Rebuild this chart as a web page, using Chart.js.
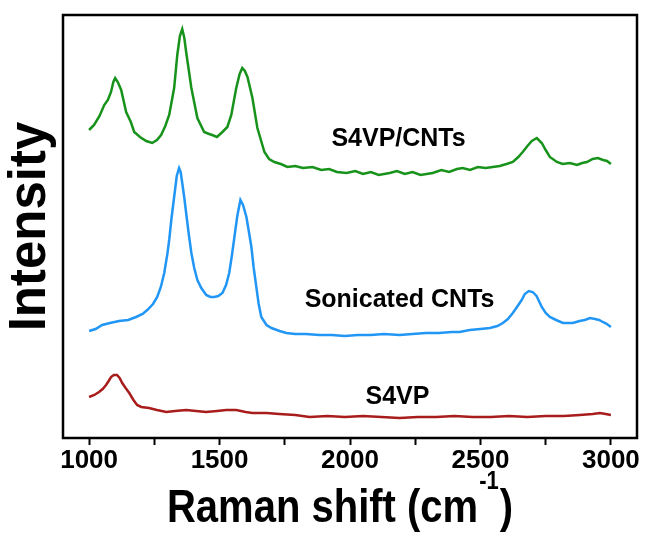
<!DOCTYPE html>
<html>
<head>
<meta charset="utf-8">
<script src="https://cdn.jsdelivr.net/npm/chart.js@4.4.0/dist/chart.umd.min.js"></script>
<style>
  html, body { margin: 0; padding: 0; background: #fff; }
  #wrap { width: 649px; height: 534px; }
</style>
</head>
<body>
<div id="wrap"><canvas id="myChart" width="649" height="534"></canvas></div>
<script>
// Raman spectra, intensity in arbitrary units (curves stacked with offsets like the figure)
var greenX = [1000,1019,1040,1058,1072,1084,1093,1100,1110,1123,1142,1160,1173,1195,1219,1242,1260,1276,1292,1307,1326,1338,1348,1357,1365,1372,1392,1415,1441,1460,1472,1490,1511,1530,1545,1564,1577,1587,1597,1607,1626,1645,1672,1690,1710,1735,1760,1790,1820,1856,1890,1920,1950,1987,2020,2050,2080,2110,2152,2180,2210,2240,2270,2317,2350,2380,2410,2432,2460,2490,2520,2547,2574,2600,2624,2645,2662,2680,2697,2716,2735,2750,2766,2793,2815,2843,2870,2890,2908,2930,2950,2970,2985,3000];
var greenY = [308,313,322,333,338,346,356,360,356,348,326,316,306,301,297,295,298,303,312,323,350,383,402,409,400,386,350,320,306,304,303,301,306,311,323,350,364,370,367,361,340,310,286,279,276,274,271,272,270,271,268,269,266,265,267,264,266,263,265,267,264,266,263,265,268,266,269,270,268,271,270,271,272,274,276,281,286,292,297,300,295,288,281,276,274,275,273,275,276,279,280,278,277,274];

var blueX = [1000,1025,1050,1080,1115,1150,1180,1205,1223,1245,1261,1275,1288,1300,1307,1316,1326,1336,1345,1351,1357,1365,1372,1382,1392,1403,1415,1430,1449,1465,1480,1495,1511,1525,1537,1547,1557,1568,1580,1590,1603,1612,1622,1631,1641,1650,1660,1680,1699,1730,1756,1790,1830,1883,1930,1980,2030,2080,2130,2190,2240,2290,2340,2390,2420,2459,2500,2536,2565,2586,2605,2624,2640,2658,2670,2685,2700,2715,2735,2750,2766,2790,2816,2854,2880,2900,2920,2939,2955,2969,2985,3000];
var blueY = [107,109,113,115,117,118,121,124,128,134,141,151,165,184,198,220,241,262,270,266,255,240,225,204,185,170,158,150,143,141,141,142,145,153,165,182,201,222,238,233,221,207,191,170,151,134,121,113,110,107,105,104,104,103,103,102,103,103,104,103,104,105,105,106,106,108,109,110,112,115,119,125,131,138,144,147,146,142,131,125,121,118,115,115,117,118,120,119,118,116,114,111];

var redX = [1000,1020,1038,1052,1065,1075,1084,1095,1107,1117,1127,1140,1154,1170,1184,1200,1230,1260,1296,1330,1372,1410,1449,1490,1526,1564,1600,1626,1680,1729,1790,1845,1914,1980,2050,2120,2190,2260,2330,2400,2470,2540,2610,2680,2750,2820,2881,2930,2958,2980,3000];
var redY = [41,43,46,49,53,57,61,63,63,60,55,50,45,38,33,31,30,28,26,27,28,27,26,27,28,28,26,25,25,24,23,21,22,21,22,21,20,21,21,22,21,21,22,21,22,22,23,24,25,24,23];

var xTicks = [1000,1250,1500,1750,2000,2250,2500,2750,3000];
var labelText = ["S4VP/CNTs", "Sonicated CNTs", "S4VP"];
var labelX = [2186, 2190, 2182];
var labelY = [299, 138, 41];

var fam = '"Liberation Sans", Arial, sans-serif';

function pts(xs, ys) {
  return xs.map(function(x, i) { return {x: x, y: ys[i]}; });
}

var extras = {
  id: 'extras',
  afterDatasetsDraw: function(chart) {
    var ctx = chart.ctx, a = chart.chartArea;
    var xs = chart.scales.x, ys = chart.scales.y;
    ctx.save();
    ctx.strokeStyle = '#000';
    ctx.lineWidth = 2.5;
    ctx.strokeRect(a.left, a.top, a.right - a.left, a.bottom - a.top);

    ctx.fillStyle = '#000';
    ctx.font = 'bold 25px ' + fam;
    ctx.textAlign = 'center';
    ctx.textBaseline = 'middle';
    for (var i = 0; i < labelText.length; i++) {
      ctx.fillText(labelText[i], xs.getPixelForValue(labelX[i]), ys.getPixelForValue(labelY[i]));
    }

    // x title with the superscript
    var fMain = 'bold 40px ' + fam, fSup = 'bold 22px ' + fam;
    ctx.font = fMain;
    var w1 = ctx.measureText('Raman shift (cm').width;
    var w3 = ctx.measureText(')').width;
    ctx.font = fSup;
    var w2 = ctx.measureText('-1').width;
    var x0 = (a.left + a.right) / 2 - 10 - (w1 + w2 + w3 + 2) / 2;
    ctx.translate(0, a.bottom + 84);
    ctx.scale(1, 1.15);
    ctx.textAlign = 'left';
    ctx.textBaseline = 'alphabetic';
    ctx.font = fMain;
    ctx.fillText('Raman shift (cm', x0, 0);
    ctx.font = fSup;
    ctx.fillText('-1', x0 + w1 + 1, -29);
    ctx.font = fMain;
    ctx.fillText(')', x0 + w1 + w2 + 2, 0);
    ctx.restore();
  }
};

var ctx = document.getElementById("myChart").getContext("2d");
var myChart = new Chart(ctx, {
  type: 'line',
  data: {
    datasets: [
      { label: 'S4VP/CNTs', data: pts(greenX, greenY), borderColor: '#17921a', borderWidth: 2.5 },
      { label: 'Sonicated CNTs', data: pts(blueX, blueY), borderColor: '#2196f5', borderWidth: 2.5 },
      { label: 'S4VP', data: pts(redX, redY), borderColor: '#a81c1c', borderWidth: 2.5 }
    ]
  },
  options: {
    responsive: false,
    animation: false,
    layout: { padding: { top: 15, right: 12, left: 0, bottom: 0 } },
    elements: { point: { radius: 0 }, line: { tension: 0, fill: false } },
    plugins: { legend: { display: false }, tooltip: { enabled: false } },
    scales: {
      x: {
        type: 'linear',
        min: 900,
        max: 3100,
        border: { display: false },
        grid: { drawOnChartArea: false, drawTicks: true, tickLength: 7, tickColor: '#000', tickWidth: 2 },
        afterBuildTicks: function(scale) {
          scale.ticks = xTicks.map(function(v) { return {value: v}; });
        },
        afterFit: function(scale) { scale.height = 96; },
        ticks: {
          autoSkip: false,
          maxRotation: 0,
          padding: 0,
          color: '#000',
          font: { family: fam, size: 26, weight: 'bold' },
          callback: function(v) { return v % 500 === 0 ? v : ''; }
        }
      },
      y: {
        min: 0,
        max: 423,
        border: { display: false },
        grid: { display: false },
        ticks: { display: false },
        afterFit: function(scale) { scale.width = 63; },
        title: {
          display: true,
          text: 'Intensity',
          color: '#000',
          padding: 0,
          font: { family: fam, size: 51, weight: 'bold' }
        }
      }
    }
  },
  plugins: [extras]
});
</script>
</body>
</html>
